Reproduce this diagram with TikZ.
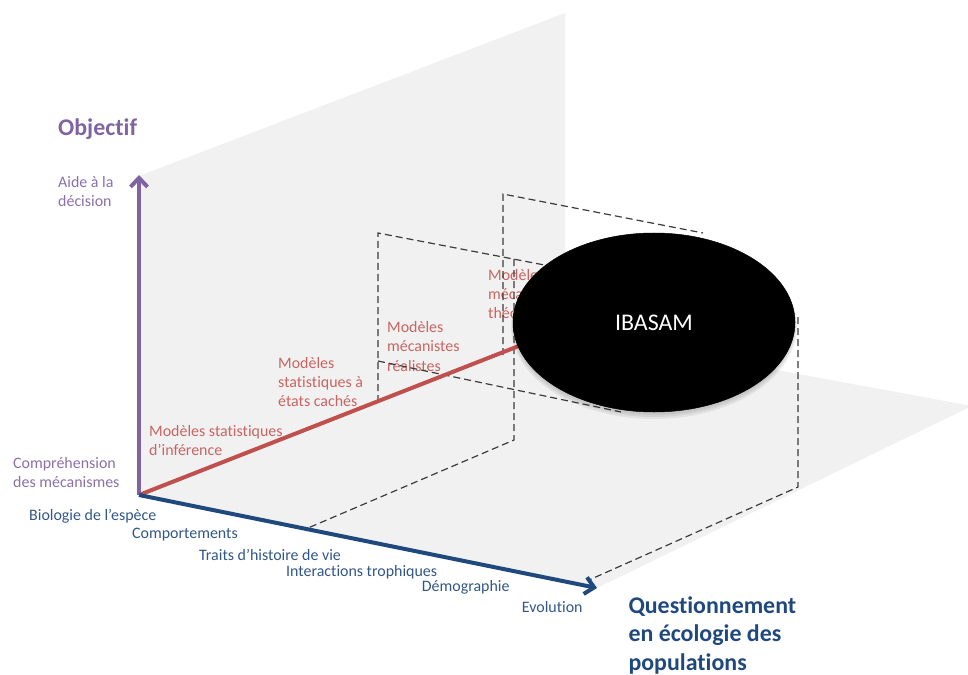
\documentclass[tikz,border=0pt]{standalone}
\usepackage{fontspec}
\setmainfont{Carlito}[Ligatures={NoCommon}]
\usetikzlibrary{arrows.meta,shapes.geometric}

\definecolor{axispurple}{RGB}{128,100,162}
\definecolor{axisred}{RGB}{192,80,77}
\definecolor{axisblue}{RGB}{31,73,125}
\definecolor{planegrey}{RGB}{241,241,241}
\definecolor{guidegrey}{RGB}{60,60,60}

% left-aligned multi-line text whose baseline is the first line
\newcommand\txtlines[1]{\vtop{\halign{##\hfil\cr#1\crcr}}}

\begin{document}
\begin{tikzpicture}[x=1bp,y=-1bp,
  smalltext/.style={inner sep=0pt, anchor=base west, font=\fontsize{16}{19.3}\selectfont},
  purplelbl/.style={smalltext, text=axispurple!92!white},
  redlbl/.style={smalltext, text=axisred!88!white},
  bluelbl/.style={smalltext, text=axisblue!92!white},
  bigtitle/.style={inner sep=0pt, anchor=base west, font=\fontsize{24}{28.5}\selectfont\bfseries},
  axisline/.style={line width=4bp},
  axisarrow/.style={axisline, -{Straight Barb[length=9bp,width=17bp]}},
  guide/.style={draw=guidegrey, line width=1.2bp, dash pattern=on 7bp off 4bp},
  plane/.style={fill=planegrey, draw=none}
]
\useasboundingbox (0,0) rectangle (968,675);

% axis origin and the corners of the two planes
\coordinate (O) at (139,495);
\coordinate (backTL) at (139,176);
\coordinate (backTR) at (565,13);
\coordinate (backBR) at (565,331);
\coordinate (floorFR) at (597,588);
\coordinate (floorR) at (972,406);

% vertical back plane and floor
\fill[plane] (O) -- (backTL) -- (backTR) -- (backBR) -- cycle;
\fill[plane] (O) -- (floorFR) -- (floorR) -- (backBR) -- cycle;

% model labels along the depth axis
\node[redlbl] (lblinf) at (149,436) {\txtlines{Modèles statistiques\cr d’inférence}};
\node[redlbl] (lblcache) at (278,368) {\txtlines{Modèles\cr statistiques à\cr états cachés}};
\node[redlbl] (lblreal) at (387,332.7) {\txtlines{Modèles\cr mécanistes\cr réalistes}};
\node[redlbl] (lbltheo) at (488,280) {\txtlines{Modèles\cr mécanistes\cr théoriques}};

% guide points
\coordinate (a1) at (378,402);
\coordinate (a2) at (378,233);
\coordinate (a3) at (560,268);
\coordinate (m1) at (378,361);
\coordinate (m2) at (621,412);
\coordinate (v1) at (514,259);
\coordinate (v2) at (514,440);
\coordinate (v3) at (308,528);
\coordinate (b1) at (503,355);
\coordinate (b2) at (503,194);
\coordinate (b3) at (703,233);
\coordinate (c1) at (798,317);
\coordinate (c2) at (798,487);
\coordinate (c3) at (589,580);

% dashed projection lines
\draw[guide] (a1) -- (a2) -- (a3);
\draw[guide] (m1) -- (m2);
\draw[guide] (v1) -- (v2) -- (v3);
\draw[guide] (b1) -- (b2) -- (b3);
\draw[guide] (c1) -- (c2) -- (c3);

% depth axis (runs under the ellipse)
\coordinate (redEnd) at (585,320);
\draw[axisline, draw=axisred] (O) -- (redEnd);

% IBASAM ellipse with a faint shadow underneath
\foreach \k in {1,2,3}{
  \fill[black, opacity=0.06] (654,{323.5+\k}) ellipse ({140+\k} and {89.5+\k});
}
\node[ellipse, fill=black, draw=black, line width=0.5bp, minimum width=282bp,
      minimum height=179bp, inner sep=0pt, text=white,
      font=\fontsize{24}{28}\selectfont] (ibasam) at (654,322.5) {IBASAM};

% vertical and horizontal axes
\coordinate (purpleTip) at (139,175);
\draw[axisarrow, draw=axispurple] (O) -- (purpleTip);
\draw[axisarrow, draw=axisblue] (O) -- (floorFR);

% axis titles and graduations
\node[bigtitle, text=axispurple] (objectif) at (58,136) {Objectif};
\node[purplelbl] (aide) at (58,187.7) {\txtlines{Aide à la\cr décision}};
\node[purplelbl] (compr) at (13,468) {\txtlines{Compréhension\cr des mécanismes}};

\node[bluelbl] (bio) at (29,520.7) {Biologie de l’espèce};
\node[bluelbl] (comp) at (132,538.7) {Comportements};
\node[bluelbl] (traits) at (199,560) {Traits d’histoire de vie};
\node[bluelbl] (inter) at (286,576) {Interactions trophiques};
\node[bluelbl] (demo) at (421.7,591.7) {Démographie};
\node[bluelbl] (evol) at (521.7,612.7) {Evolution};
\node[bigtitle, text=axisblue] (quest) at (628.3,613.3)
  {\txtlines{Questionnement\cr en écologie des\cr populations}};
\end{tikzpicture}
\end{document}
